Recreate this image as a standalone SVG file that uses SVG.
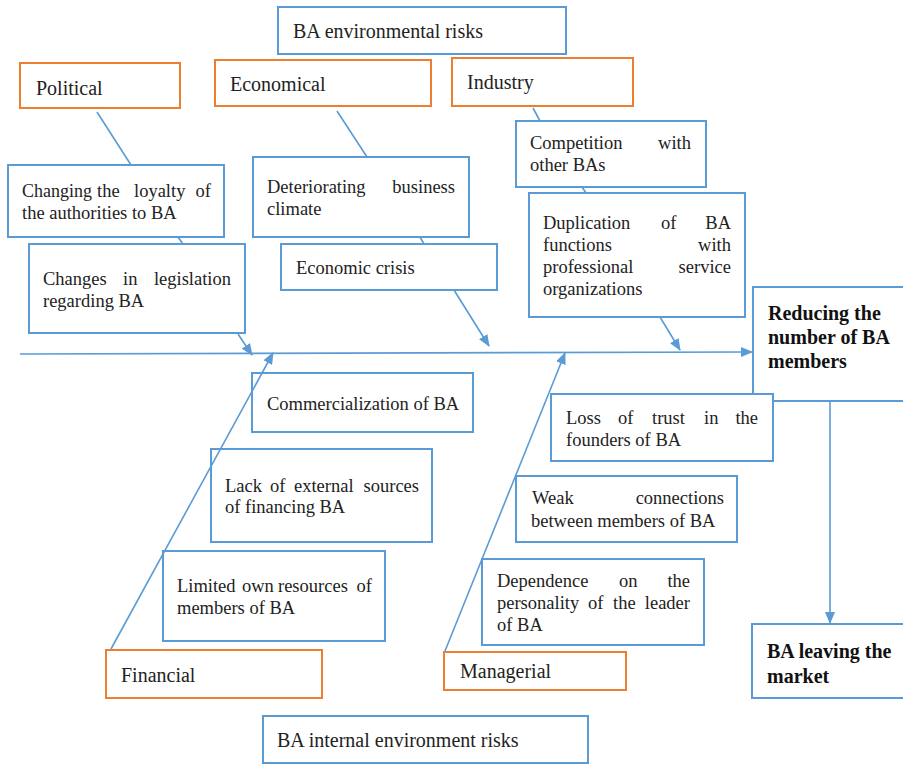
<svg xmlns="http://www.w3.org/2000/svg" width="903" height="765" viewBox="0 0 903 765">
<style>
.b{fill:#fff;stroke:#5B9BD5;stroke-width:2}
.o{fill:#fff;stroke:#ED7D31;stroke-width:2}
text{font-family:'Liberation Serif','DejaVu Serif',serif;fill:#222}
.t{font-size:18.5px}
.h{font-size:20px}
.bd{font-size:20px;font-weight:bold;fill:#111}
.l{stroke:#5B9BD5;stroke-width:1.6;fill:none}
.a{stroke:#5B9BD5;stroke-width:1.6;fill:none;marker-end:url(#ah)}
.e{text-anchor:end}
</style>
<defs>
<marker id="ah" markerUnits="userSpaceOnUse" markerWidth="12" markerHeight="10" refX="11" refY="5" orient="auto">
<path d="M0,0 L12,5 L0,10 z" fill="#5B9BD5"/>
</marker>
</defs>
<g font-family="Liberation Serif, serif">
<g id="env-risks"><rect class="b" x="278" y="7" width="288" height="47"/><text class="h" x="293" y="38">BA environmental risks</text></g>
<g id="political"><rect class="o" x="20" y="63" width="160" height="45"/><text class="h" x="36" y="95">Political</text></g>
<g id="economical"><rect class="o" x="215" y="60" width="216" height="46"/><text class="h" x="230" y="91">Economical</text></g>
<g id="industry"><rect class="o" x="452" y="58" width="181" height="48"/><text class="h" x="467" y="89">Industry</text></g>
<g id="loyalty"><rect class="b" x="8" y="165" width="216" height="72"/><text class="t" y="197"><tspan x="22" textLength="70" lengthAdjust="spacingAndGlyphs">Changing</tspan><tspan x="97">the</tspan><tspan x="134">loyalty</tspan><tspan x="211" class="e">of</tspan></text><text class="t" x="22" y="219">the authorities to BA</text></g>
<g id="legislation"><rect class="b" x="29" y="244" width="216" height="89"/><text class="t" y="285"><tspan x="43">Changes</tspan><tspan x="123">in</tspan><tspan x="231" class="e">legislation</tspan></text><text class="t" x="43" y="307">regarding BA</text></g>
<g id="climate"><rect class="b" x="253" y="157" width="216" height="80"/><text class="t" y="193"><tspan x="267">Deteriorating</tspan><tspan x="455" class="e">business</tspan></text><text class="t" x="267" y="215">climate</text></g>
<g id="crisis"><rect class="b" x="281" y="244" width="216" height="46"/><text class="t" x="296" y="274">Economic crisis</text></g>
<g id="competition"><rect class="b" x="516" y="121" width="190" height="66"/><text class="t" y="149"><tspan x="530">Competition</tspan><tspan x="691" class="e">with</tspan></text><text class="t" x="530" y="171">other BAs</text></g>
<g id="duplication"><rect class="b" x="529" y="193" width="216" height="124"/><text class="t" y="229"><tspan x="543">Duplication</tspan><tspan x="661">of</tspan><tspan x="731" class="e">BA</tspan></text><text class="t" y="251"><tspan x="543">functions</tspan><tspan x="731" class="e">with</tspan></text><text class="t" y="273"><tspan x="543">professional</tspan><tspan x="731" class="e">service</tspan></text><text class="t" x="543" y="295">organizations</text></g>
<g id="reducing"><rect class="b" x="753" y="287" width="170" height="114"/><text class="bd" x="768" y="320">Reducing the</text><text class="bd" x="768" y="344">number of BA</text><text class="bd" x="768" y="368">members</text></g>
<g id="leaving"><rect class="b" x="752" y="624" width="170" height="74"/><text class="bd" x="767" y="658">BA leaving the</text><text class="bd" x="767" y="683">market</text></g>
<g id="commercialization"><rect class="b" x="252" y="373" width="221" height="59"/><text class="t" x="267" y="410">Commercialization of BA</text></g>
<g id="external"><rect class="b" x="211" y="449" width="221" height="93"/><text class="t" y="492"><tspan x="225">Lack</tspan><tspan x="270">of</tspan><tspan x="294">external</tspan><tspan x="419" class="e">sources</tspan></text><text class="t" x="225" y="513">of financing BA</text></g>
<g id="own"><rect class="b" x="163" y="551" width="222" height="90"/><text class="t" y="592"><tspan x="177">Limited</tspan><tspan x="242">own</tspan><tspan x="278">resources</tspan><tspan x="372" class="e">of</tspan></text><text class="t" x="177" y="614">members of BA</text></g>
<g id="financial"><rect class="o" x="106" y="650" width="216" height="48"/><text class="h" x="121" y="682">Financial</text></g>
<g id="internal-risks"><rect class="b" x="263" y="716" width="325" height="47"/><text class="h" x="277" y="747">BA internal environment risks</text></g>
<g id="trust"><rect class="b" x="551" y="394" width="222" height="67"/><text class="t" y="424"><tspan x="566">Loss</tspan><tspan x="618">of</tspan><tspan x="652">trust</tspan><tspan x="704">in</tspan><tspan x="758" class="e">the</tspan></text><text class="t" x="566" y="446">founders of BA</text></g>
<g id="connections"><rect class="b" x="516" y="476" width="221" height="66"/><text class="t" y="504"><tspan x="532">Weak</tspan><tspan x="724" class="e">connections</tspan></text><text class="t" x="531" y="527">between members of BA</text></g>
<g id="dependence"><rect class="b" x="482" y="559" width="222" height="86"/><text class="t" y="587"><tspan x="497">Dependence</tspan><tspan x="619">on</tspan><tspan x="690" class="e">the</tspan></text><text class="t" y="609"><tspan x="497">personality</tspan><tspan x="588">of</tspan><tspan x="613">the</tspan><tspan x="690" class="e">leader</tspan></text><text class="t" x="497" y="631">of BA</text></g>
<g id="managerial"><rect class="o" x="444" y="652" width="182" height="38"/><text class="h" x="460" y="678">Managerial</text></g>
</g>
<g id="connectors">
<line class="l" x1="97" y1="112" x2="131" y2="165"/>
<line class="l" x1="178" y1="237" x2="183" y2="244"/>
<line class="l" x1="337" y1="111" x2="367" y2="157"/>
<line class="l" x1="420" y1="237" x2="424" y2="244"/>
<line class="l" x1="533" y1="108" x2="540" y2="121"/>
<line class="l" x1="582" y1="187" x2="586" y2="193"/>
<line class="a" x1="20" y1="354" x2="752" y2="352"/>
<line class="a" x1="238" y1="334" x2="252" y2="355"/>
<line class="a" x1="454" y1="290" x2="489" y2="346"/>
<line class="a" x1="660" y1="317" x2="680" y2="350"/>
<line class="a" x1="111" y1="649" x2="273" y2="353"/>
<line class="a" x1="445" y1="651" x2="565" y2="353"/>
<line class="a" x1="830" y1="401" x2="830" y2="623"/>
</g>
</svg>
